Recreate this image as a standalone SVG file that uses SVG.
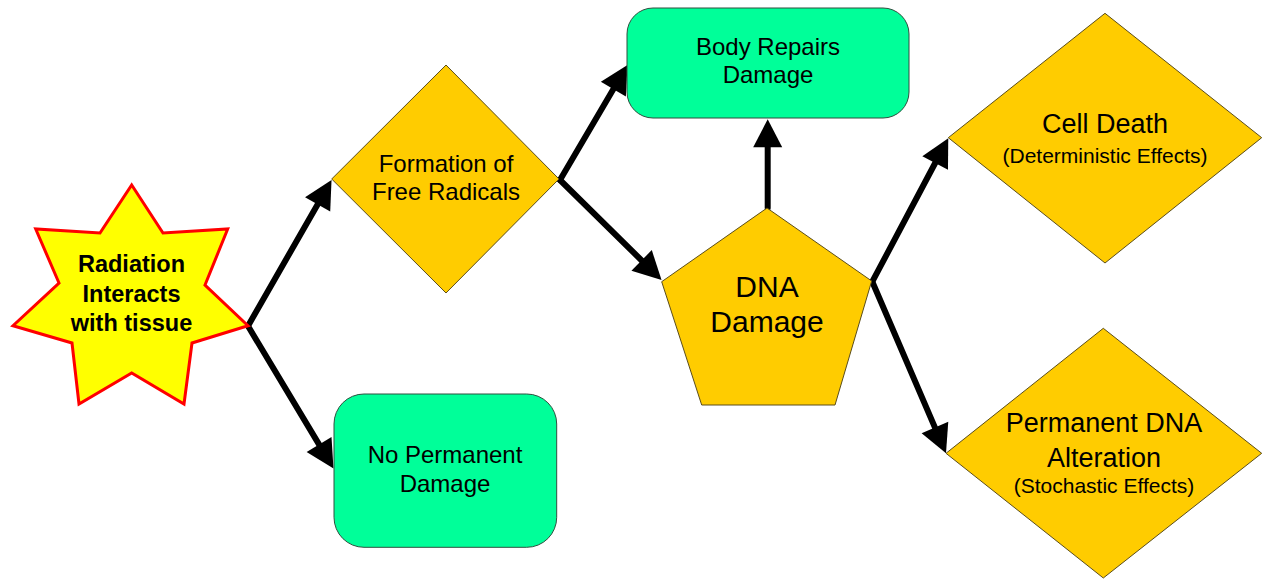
<svg xmlns="http://www.w3.org/2000/svg" width="1262" height="579" viewBox="0 0 1262 579">
  <style>
    .diamond { fill: #ffcc00; stroke: #5b4d1a; stroke-width: 1; }
    .box { fill: #00ff99; stroke: #2f4f3f; stroke-width: 1; }
    .star { fill: #ffff00; stroke: #ff0000; stroke-width: 3; stroke-linejoin: miter; }
    .t { font-family: "Liberation Sans", Arial, sans-serif; fill: #000; text-anchor: middle; }
    .tb { font-weight: bold; }
    .conn { stroke: #000; stroke-width: 6; fill: none; stroke-linecap: round; }
  </style>
  <defs>
    <marker id="ah" markerUnits="userSpaceOnUse" markerWidth="60" markerHeight="60" refX="0" refY="0" orient="auto" overflow="visible" viewBox="-30 -30 60 60">
      <path d="M20,0 L-8,-14.5 L-8,14.5 Z" fill="#000"/>
    </marker>
  </defs>
  <rect width="1262" height="579" fill="#ffffff"/>

  <g id="connectors">
    <line class="conn" x1="248" y1="326" x2="321.6" y2="197.4" marker-end="url(#ah)"/>
    <line class="conn" x1="248" y1="326" x2="323.2" y2="451.4" marker-end="url(#ah)"/>
    <line class="conn" x1="560" y1="180" x2="617.4" y2="82.3" marker-end="url(#ah)"/>
    <line class="conn" x1="560" y1="180" x2="647.3" y2="266" marker-end="url(#ah)"/>
    <line class="conn" x1="767.7" y1="208" x2="767.7" y2="139.3" marker-end="url(#ah)"/>
    <line class="conn" x1="872.3" y1="281.7" x2="938.9" y2="156" marker-end="url(#ah)"/>
    <line class="conn" x1="872.3" y1="281.7" x2="938.1" y2="434.9" marker-end="url(#ah)"/>
  </g>

  <g id="radiation">
    <polygon class="star" points="131.7,185 163,233 227.7,229 205,285 248,325.7 192,343 184,404 131.7,373 79,404 72,343 13,325.7 59,283 35.7,229 100,233"/>
    <text class="t tb" font-size="23.5" x="131.5" y="272">Radiation</text>
    <text class="t tb" font-size="23.5" x="131.5" y="302">Interacts</text>
    <text class="t tb" font-size="23.5" x="131.5" y="331">with tissue</text>
  </g>

  <g id="free-radicals">
    <polygon class="diamond" points="446,65 559,179 446,293 331.7,179"/>
    <text class="t" font-size="24" x="446" y="171.7">Formation of</text>
    <text class="t" font-size="24" x="446" y="200">Free Radicals</text>
  </g>

  <g id="no-permanent-damage">
    <rect class="box" x="334" y="394" width="222.7" height="153.3" rx="30" ry="30"/>
    <text class="t" font-size="24" x="445" y="463.3">No Permanent</text>
    <text class="t" font-size="24" x="445" y="491.7">Damage</text>
  </g>

  <g id="body-repairs">
    <rect class="box" x="627" y="8" width="282" height="110" rx="26" ry="26"/>
    <text class="t" font-size="24" x="768" y="55">Body Repairs</text>
    <text class="t" font-size="24" x="768" y="83">Damage</text>
  </g>

  <g id="dna-damage">
    <polygon class="diamond" points="767,208 871.7,281 835,405 701.7,405 661.7,281.7"/>
    <text class="t" font-size="30" x="767" y="297">DNA</text>
    <text class="t" font-size="30" x="767" y="332">Damage</text>
  </g>

  <g id="cell-death">
    <polygon class="diamond" points="1105,13.3 1261.7,137.7 1105,263 948.3,137.7"/>
    <text class="t" font-size="27" x="1105" y="133.3">Cell Death</text>
    <text class="t" font-size="21" x="1105" y="163.3">(Deterministic Effects)</text>
  </g>

  <g id="permanent-dna">
    <polygon class="diamond" points="1103.3,328.3 1261.7,453.3 1103.3,578 946,453.3"/>
    <text class="t" font-size="27" x="1104" y="431.7">Permanent DNA</text>
    <text class="t" font-size="27" x="1104" y="466.7">Alteration</text>
    <text class="t" font-size="21" x="1104" y="493.3">(Stochastic Effects)</text>
  </g>
</svg>
